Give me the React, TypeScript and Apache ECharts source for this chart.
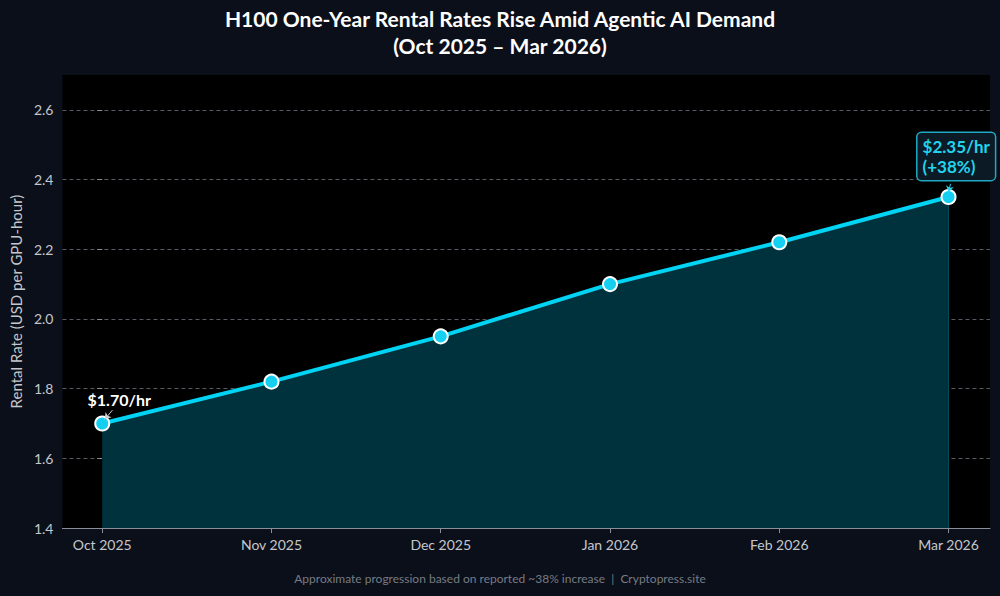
import React, { useEffect, useRef } from "react";
import * as echarts from "echarts";

const categories = ["Oct 2025", "Nov 2025", "Dec 2025", "Jan 2026", "Feb 2026", "Mar 2026"];
const rates = [1.7, 1.82, 1.95, 2.1, 2.22, 2.35];
const yTicks = [1.4, 1.6, 1.8, 2.0, 2.2, 2.4, 2.6];

const FONT = "Lato, 'Noto Sans', sans-serif";

export default function App() {
  const ref = useRef<HTMLDivElement>(null);
  useEffect(() => {
    if (!ref.current) return;
    const chart = echarts.init(ref.current, null, { renderer: "svg" });
    const idx = categories.map((_, i) => i);
    const data = rates.map((v, i) => [i, v]);
    const last = rates.length - 1;
    chart.setOption({
      animation: false,
      backgroundColor: "#0b0f19",
      textStyle: { fontFamily: FONT },
      title: {
        text: "H100 One-Year Rental Rates Rise Amid Agentic AI Demand\n(Oct 2025 – Mar 2026)",
        left: "center",
        top: 0,
        textStyle: { color: "#ffffff", fontSize: 21, fontWeight: "bold", lineHeight: 27, fontFamily: FONT },
      },
      grid: { left: 60, right: 10, top: 75, bottom: 68, show: true, backgroundColor: "#000000", borderWidth: 0 },
      xAxis: {
        type: "value",
        min: -0.235,
        max: 5.245,
        splitLine: { show: false },
        axisLine: { show: true, lineStyle: { color: "#8a8f99", width: 1 } },
        axisTick: { show: true, customValues: idx, length: 5, lineStyle: { color: "#8a8f99" } },
        axisLabel: {
          customValues: idx,
          color: "#c4c7cc",
          fontSize: 14,
          margin: 9,
          fontFamily: FONT,
          formatter: (v: number) => categories[Math.round(v)] ?? "",
        },
      },
      yAxis: {
        type: "value",
        min: 1.4,
        max: 2.7,
        name: "Rental Rate (USD per GPU-hour)",
        nameLocation: "middle",
        nameGap: 38,
        nameTextStyle: { color: "#c4c7cc", fontSize: 15, fontFamily: FONT },
        axisLine: { show: false },
        axisTick: { show: true, customValues: yTicks, length: 5, lineStyle: { color: "#8a8f99" } },
        axisLabel: {
          customValues: yTicks,
          color: "#c4c7cc",
          fontSize: 14,
          margin: 9,
          fontFamily: FONT,
          formatter: (v: number) => v.toFixed(1),
        },
        splitLine: { show: true, lineStyle: { color: "#555a63", type: [4, 3], width: 1 } },
      },
      series: [
        {
          type: "line",
          data: data.map((d, i) => {
            if (i === 0)
              return {
                value: d,
                label: {
                  show: true,
                  position: "top",
                  offset: [17, -3],
                  formatter: "$1.70/hr",
                  color: "#ffffff",
                  fontSize: 16,
                  fontWeight: "bold",
                  fontFamily: FONT,
                },
              };
            if (i === last)
              return {
                value: d,
                label: {
                  show: true,
                  position: "top",
                  offset: [-31, -4],
                  formatter: "$2.35/hr\n(+38%)",
                  color: "#22d3ee",
                  fontSize: 17,
                  fontWeight: "bold",
                  lineHeight: 20,
                  align: "left",
                  backgroundColor: "#0b1a24",
                  borderColor: "#1fa9c4",
                  borderWidth: 1.5,
                  borderRadius: 4,
                  padding: [4, 5, 3, 5],
                  fontFamily: FONT,
                },
              };
            return d;
          }),
          symbol: "circle",
          symbolSize: 14,
          itemStyle: { color: "#14cff0", borderColor: "#ffffff", borderWidth: 2 },
          lineStyle: { color: "#00d4f5", width: 4 },
          areaStyle: { color: "#00323d", opacity: 1, origin: "start" },
          z: 3,
          markLine: {
            silent: true,
            symbol: ["none", "arrow"],
            symbolSize: 6,
            label: { show: false },
            lineStyle: { color: "#d0d0d0", width: 1, type: "solid" },
            data: [
              [
                { coord: [0.06, 1.738] },
                { coord: [0.015, 1.712] },
              ],
              [
                { coord: [5.012, 2.388], lineStyle: { color: "#22d3ee" } },
                { coord: [5.0, 2.364], lineStyle: { color: "#22d3ee" } },
              ],
            ],
          },
        },
        {
          type: "line",
          data: [
            [last, 1.4],
            [last, rates[last]],
          ],
          symbol: "none",
          lineStyle: { color: "#0a6b7a", width: 1 },
          z: 2,
        },
      ],
      graphic: [
        {
          type: "text",
          left: "center",
          top: 572,
          style: {
            text: "Approximate progression based on reported ~38% increase  |  Cryptopress.site",
            fill: "#767b85",
            fontSize: 12,
            fontFamily: FONT,
          },
        },
      ],
    });
    return () => chart.dispose();
  }, []);
  return <div ref={ref} style={{ position: "absolute", left: 0, top: 0, width: 1000, height: 596 }} />;
}
